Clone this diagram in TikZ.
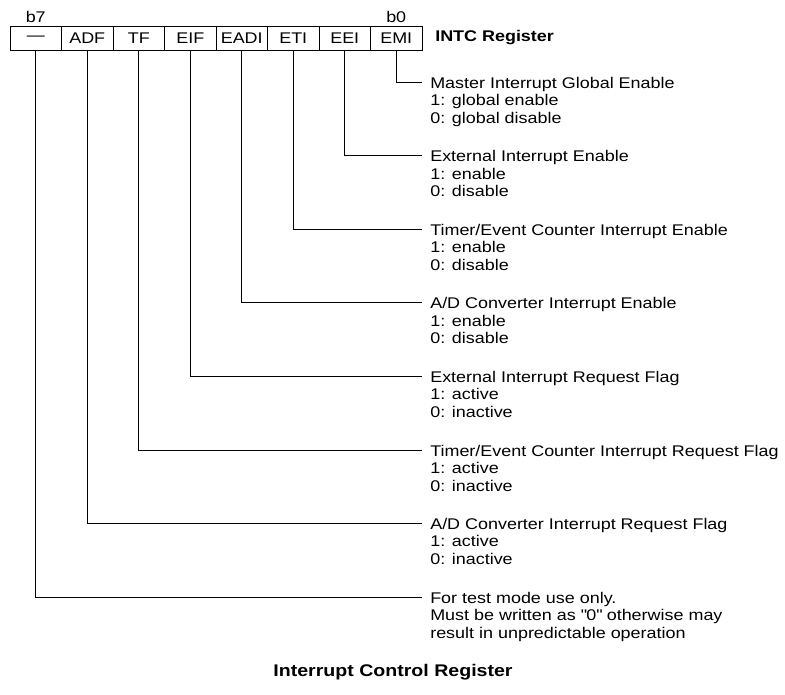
\documentclass[tikz,border=0pt]{standalone}
\usepackage{fontspec}
\setmainfont{Liberation Sans}[FakeStretch=1.16]
\usetikzlibrary{positioning}
\newcommand{\regfont}{\fontsize{11}{12.4}\selectfont}

\begin{document}
\begin{tikzpicture}[x=0.025cm,y=-0.025cm,
    bitcell/.style={draw,line width=0.7pt,minimum width=1.2875cm,
      minimum height=0.6cm,inner sep=0pt,font=\regfont},
    bitno/.style={font=\regfont,inner sep=0pt},
    desc/.style={anchor=north west,align=left,inner sep=0pt,font=\regfont},
    heading/.style={font=\regfont\bfseries,inner sep=0pt},
    lead/.style={line width=0.7pt}
  ]
    \useasboundingbox (0,0) rectangle (785,695);

    % register bits, b7 on the left
    \node[bitcell] (c7) at (35.75,38) {---};
    \node[bitcell] (c6) at (87.25,38) {ADF};
    \node[bitcell] (c5) at (138.75,38) {TF};
    \node[bitcell] (c4) at (190.25,38) {EIF};
    \node[bitcell] (c3) at (241.75,38) {EADI};
    \node[bitcell] (c2) at (293.25,38) {ETI};
    \node[bitcell] (c1) at (344.75,38) {EEI};
    \node[bitcell] (c0) at (396.25,38) {EMI};

    \node[bitno] (b7) at (35.75,17) {b7};
    \node[bitno] (b0) at (396.25,17) {b0};
    \node[heading,anchor=west] (reg) at (435,38) {INTC Register};

    % bit descriptions
    \node[desc] (d0) at (430,77) {Master Interrupt Global Enable\\1: global enable\\0: global disable};
    \node[desc] (d1) at (430,150.5) {External Interrupt Enable\\1: enable\\0: disable};
    \node[desc] (d2) at (430,224) {Timer/Event Counter Interrupt Enable\\1: enable\\0: disable};
    \node[desc] (d3) at (430,297.5) {A/D Converter Interrupt Enable\\1: enable\\0: disable};
    \node[desc] (d4) at (430,371) {External Interrupt Request Flag\\1: active\\0: inactive};
    \node[desc] (d5) at (430,445) {Timer/Event Counter Interrupt Request Flag\\1: active\\0: inactive};
    \node[desc] (d6) at (430,518) {A/D Converter Interrupt Request Flag\\1: active\\0: inactive};
    \node[desc] (d7) at (430,592) {For test mode use only.\\Must be written as \textquotedbl0\textquotedbl{} otherwise may\\result in unpredictable operation};

    \coordinate (k0) at (422,82);
    \coordinate (k1) at (422,155.5);
    \coordinate (k2) at (422,229);
    \coordinate (k3) at (422,302.5);
    \coordinate (k4) at (422,376);
    \coordinate (k5) at (422,450);
    \coordinate (k6) at (422,523);
    \coordinate (k7) at (422,597);

    \draw[lead] (c0.south) |- (k0);
    \draw[lead] (c1.south) |- (k1);
    \draw[lead] (c2.south) |- (k2);
    \draw[lead] (c3.south) |- (k3);
    \draw[lead] (c4.south) |- (k4);
    \draw[lead] (c5.south) |- (k5);
    \draw[lead] (c6.south) |- (k6);
    \draw[lead] (c7.south) |- (k7);

    \node[heading,font=\fontsize{12}{14}\selectfont\bfseries] (title) at (393,672) {Interrupt Control Register};
  \end{tikzpicture}
\end{document}
